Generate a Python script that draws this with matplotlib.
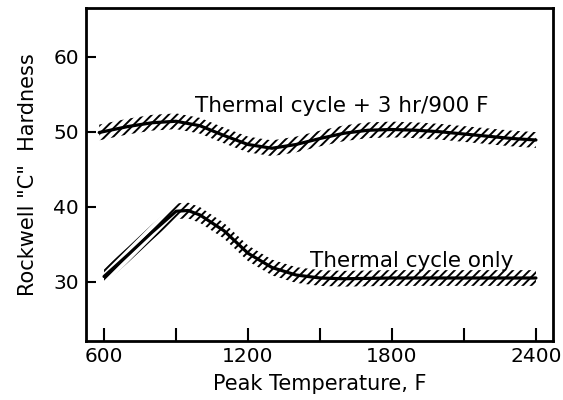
import numpy as np
import matplotlib.pyplot as plt

# hardness vs peak temperature, two heat treatments
temp_aged = [580, 700, 800, 900, 1000, 1100, 1200, 1300, 1400, 1500, 1600,
             1700, 1800, 1900, 2000, 2100, 2200, 2300, 2400]
hrc_aged = [49.9, 50.7, 51.2, 51.4, 50.8, 49.5, 48.3, 47.8, 48.3, 49.1, 49.8,
            50.2, 50.3, 50.2, 50.0, 49.7, 49.4, 49.1, 48.9]

temp_only = [600, 700, 800, 900, 950, 1000, 1100, 1200, 1300, 1400, 1500,
             1600, 1800, 2000, 2200, 2400]
hrc_only = [30.7, 33.6, 36.6, 39.4, 39.5, 38.9, 36.8, 33.8, 31.9, 30.9, 30.5,
            30.4, 30.5, 30.5, 30.5, 30.5]

band = 1.05

plt.rcParams['hatch.linewidth'] = 1.4
fig = plt.figure(figsize=(5.63, 4), dpi=100)
ax = fig.add_axes([0.1528, 0.1475, 0.8294, 0.8325])

for t, h in [(temp_aged, hrc_aged), (temp_only, hrc_only)]:
    t = np.array(t)
    h = np.array(h)
    ax.fill_between(t, h - band, h + band, facecolor='none', edgecolor='black',
                    hatch='////', linewidth=0)
    ax.plot(t, h, color='black', linewidth=2.3, solid_capstyle='round')

ax.text(1590, 53.5, 'Thermal cycle + 3 hr/900 F', ha='center', va='center', fontsize=15.5)
ax.text(1883, 32.8, 'Thermal cycle only', ha='center', va='center', fontsize=15.5)

ax.set_xlim(525, 2471)
ax.set_ylim(22.1, 66.5)
ax.set_xticks([600, 1200, 1800, 2400])
ax.set_xticks([900, 1500, 2100], minor=True)
ax.set_yticks([30, 40, 50, 60])
ax.tick_params(axis='x', which='both', direction='in', length=9.5, width=1.5,
               labelsize=14.5, pad=4)
ax.tick_params(axis='y', direction='in', length=7, width=1.5, labelsize=14.5, pad=5)
for s in ax.spines.values():
    s.set_linewidth(2)

ax.set_xlabel('Peak Temperature, F', fontsize=15, labelpad=6)
ax.set_ylabel('Rockwell "C"  Hardness', fontsize=15, labelpad=11)

plt.savefig('out.png', dpi=100)
